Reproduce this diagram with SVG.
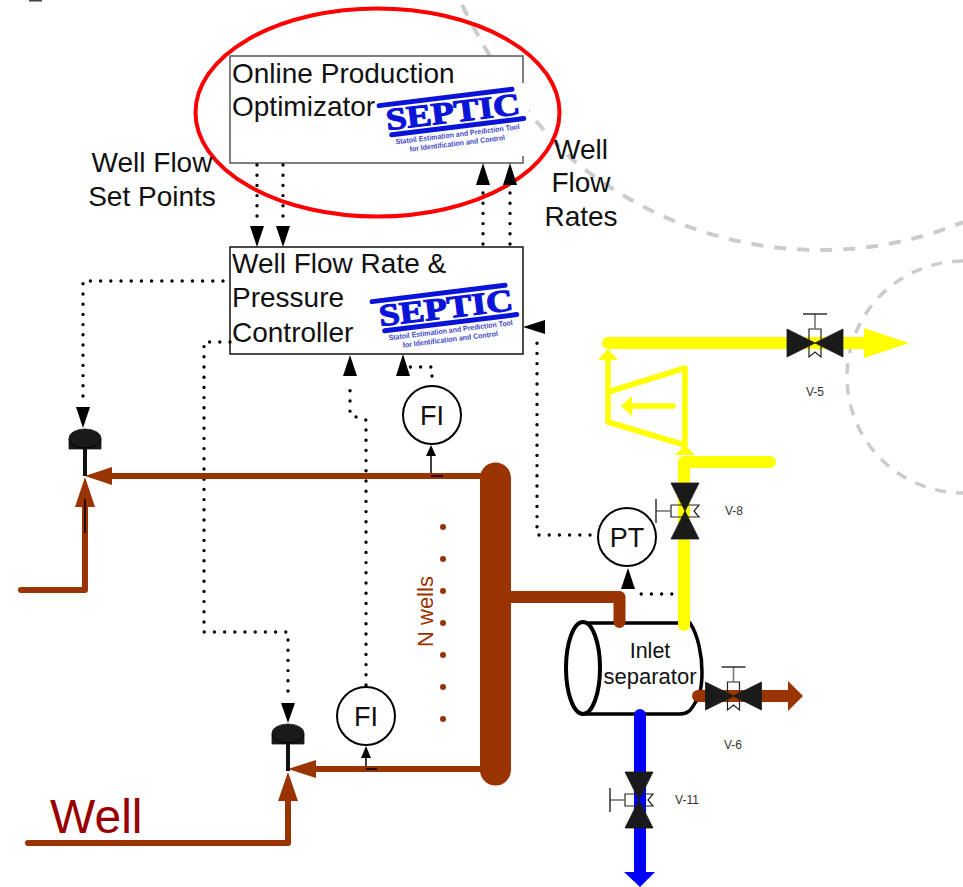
<svg xmlns="http://www.w3.org/2000/svg" xmlns:xlink="http://www.w3.org/1999/xlink" width="963" height="887" viewBox="0 0 963 887">
<style>
text{font-family:"Liberation Sans",Arial,sans-serif;fill:#111}
.t28{font-size:28px}
.mid{text-anchor:middle}
.vl{font-size:12px;fill:#333;text-anchor:middle}
.box{fill:#fff;stroke-width:1.5}
.dash{fill:none;stroke:#ccc;stroke-width:4;stroke-dasharray:12 11}
.dot{fill:none;stroke:#000;stroke-width:3.4;stroke-linecap:round;stroke-dasharray:0 10.2;stroke-linejoin:round}
.ah{fill:#000}
.thin{fill:none;stroke:#000;stroke-width:1.5}
.inst{fill:#fff;stroke:#000;stroke-width:2}
.br{fill:none;stroke:#993300;stroke-linejoin:round;stroke-linecap:round}
.brf{fill:#993300}
.ye{fill:none;stroke:#ff0;stroke-linecap:round;stroke-linejoin:round}
.yef{fill:#ff0}
.bl{fill:none;stroke:#00f;stroke-linecap:round}
.blk{fill:#1a1a1a;stroke:#1a1a1a;stroke-width:.8}
.vh{fill:none;stroke:#222;stroke-width:1.2}
.stem{fill:none;stroke:#777;stroke-width:1.6}
.bar{fill:none;stroke:#222;stroke-width:1.4}
.lg{fill:#0a14d8;stroke:#0a14d8;stroke-width:1.1;font-family:"Liberation Serif",serif;font-weight:bold}
.lgs{fill:#3f4ac8;font-weight:bold;font-size:7.5px}
</style>
<defs>
<g id="valve">
<path class="blk" d="M-28,-14 L0,0 L-28,14Z M28,-14 L0,0 L28,14Z"/>
<path class="vh" d="M-6,14 V-14 H6 V14 L0,9Z"/>
<path class="stem" d="M0,-14 V-29"/>
<path class="bar" d="M-12,-29 H12"/>
</g>
<g id="actuator">
<path class="blk" d="M-16,20 V9 A16,9 0 0 1 16,9 V20Z"/>
<path d="M-16,10 A16,9 0 0 0 16,10" fill="none" stroke="#000" stroke-width="1"/>
<rect x="-2" y="20" width="4" height="27" fill="#111"/>
</g>
<g id="logo">
<g transform="rotate(-7 380 105)">
<path d="M379,105.5 L513,105.5" stroke="#0a14d8" stroke-width="5" stroke-linecap="round"/>
<path d="M388,136 L521,136" stroke="#0a14d8" stroke-width="5" stroke-linecap="round"/>
<text class="lg" x="384" y="131" font-size="31" textLength="135" lengthAdjust="spacingAndGlyphs">SEPTIC</text>
<text class="lgs" x="391" y="146" textLength="125" lengthAdjust="spacingAndGlyphs">Statoil Estimation and Prediction Tool</text>
<text class="lgs" x="404" y="155" textLength="96" lengthAdjust="spacingAndGlyphs">for Identification and Control</text>
</g>
</g>
</defs>
<rect width="963" height="887" fill="#fff"/>
<rect x="29" y="0" width="13" height="1.5" fill="#444"/>

<g id="background-arcs">
<path class="dash" d="M462,5 C490,60 520,110 573,160 C640,215 720,247 810,250 C870,251 920,240 963,222"/>
<path class="dash" style="stroke-width:3.5;stroke-dasharray:11 10" d="M963,261 A116,116 0 0 0 963,493"/>
</g>

<g id="node-optimizer">
<rect class="box" x="230" y="56" width="293" height="107" stroke="#555"/>
<rect x="378" y="83" width="151" height="73" fill="#fff"/>
<use xlink:href="#logo" href="#logo"/>
<text class="t28" x="232" y="83">Online Production</text>
<text class="t28" x="232" y="116">Optimizator</text>
</g>
<g id="node-controller">
<rect class="box" x="230" y="247" width="293" height="107" stroke="#111"/>
<use xlink:href="#logo" href="#logo" transform="translate(-7 196)"/>
<text class="t28" x="232" y="273">Well Flow Rate &amp;</text>
<text class="t28" x="232" y="307">Pressure</text>
<text class="t28" x="232" y="342">Controller</text>
</g>
<ellipse id="highlight" cx="377.5" cy="112.5" rx="182" ry="104" fill="none" stroke="#f00" stroke-width="4"/>

<g id="connectors">
<path class="dot" d="M257,165 V222"/><polygon class="ah" points="250,226 264,226 257,247"/>
<path class="dot" d="M283,165 V222"/><polygon class="ah" points="276,226 290,226 283,247"/>
<path class="dot" d="M483,244 V192"/><polygon class="ah" points="476,185 490,185 483,163"/>
<path class="dot" d="M510,244 V192"/><polygon class="ah" points="503,185 517,185 510,163"/>
<path class="dot" d="M223,281 H83 V403"/><polygon class="ah" points="76,407 90,407 83,428"/>
<path class="dot" d="M230,342 H204 V632 H288 V698"/><polygon class="ah" points="281,703 295,703 288,723"/>
<path class="dot" d="M366,685 V420 L350,415 V384"/><polygon class="ah" points="343,376 357,376 350,355"/>
<path class="dot" d="M432,376 V367 H410"/><polygon class="ah" points="396,376 410,376 403,354"/>
<path class="dot" d="M590,535 H537 V335"/><polygon class="ah" points="545,320 545,334 523,327"/>
<path class="dot" d="M682,594 H632"/><polygon class="ah" points="621,589 635,589 628,568"/>
<path class="thin" d="M443,476 H431 V454"/><polygon class="ah" points="426,456 436,456 431,445"/>
<path class="thin" d="M377,769 H366 V757"/><polygon class="ah" points="361,758 371,758 366,746"/>
</g>

<g id="node-separator">
<path d="M583,623 H690 C698,635 702,655 702,672 C702,688 699,698 695,703 C691,710 688,714 680,714 H583Z" fill="#fff" stroke="#000" stroke-width="3.5"/>
<ellipse cx="583" cy="668" rx="17" ry="46" fill="#fff" stroke="#000" stroke-width="4"/>
<text class="mid" x="650" y="658" font-size="21.5">Inlet</text>
<text class="mid" x="650" y="684" font-size="22">separator</text>
</g>

<g id="pipes">
<path class="ye" stroke-width="12" d="M684,625 V462 H770"/>
<path class="ye" stroke-width="12" d="M608,343 H866"/>
<polygon class="yef" points="864,328 909,343 864,358"/>
<path class="ye" stroke-width="5.5" d="M608,392 L685,368 V445 L608,422Z M608,392 V358"/>
<polygon class="yef" points="598,360 618,360 608,349"/>
<polygon class="yef" points="675,455 695,455 685,445"/>
<path class="ye" stroke-width="5.5" d="M673,406 H630"/>
<polygon class="yef" points="632,396 632,416 621,406"/>
<path class="br" stroke-width="31" d="M495.5,478 V770"/>
<path class="br" stroke-width="12" d="M505,597 H619.5 V622"/>
<path class="br" stroke-width="6" d="M112,476 H482"/>
<polygon class="brf" points="112,467 112,485 85,476"/>
<path class="br" stroke-width="6" d="M21,590 H85 V505"/>
<polygon class="brf" points="75,507 95,507 85,477"/>
<path class="br" stroke-width="6" d="M316,769 H482"/>
<polygon class="brf" points="316,760 316,778 288,769"/>
<path class="br" stroke-width="6" d="M28,843 H288 V799"/>
<polygon class="brf" points="278,801 298,801 288,772"/>
<path class="thin" d="M85,499 V533"/>
<path class="thin" d="M443,476 H431"/>
<path class="thin" d="M377,769 H366"/>
<path class="br" stroke-width="12" d="M698,696 H790"/>
<polygon class="brf" points="788,681 803,696 788,711"/>
<path class="bl" stroke-width="12" d="M640,715 V875"/>
<polygon fill="#00f" points="624,872 655,872 640,887"/>
</g>

<g id="node-fi-upper"><circle class="inst" cx="432" cy="415" r="29"/><text class="mid" x="432" y="425" font-size="27">FI</text></g>
<g id="node-fi-lower"><circle class="inst" cx="366" cy="716" r="29"/><text class="mid" x="366" y="726" font-size="27">FI</text></g>
<g id="node-pt"><circle class="inst" cx="627" cy="537" r="29"/><text class="mid" x="627" y="547" font-size="27">PT</text></g>

<g id="node-cv-upper"><use xlink:href="#actuator" href="#actuator" transform="translate(85 429)"/></g>
<g id="node-cv-lower"><use xlink:href="#actuator" href="#actuator" transform="translate(288 724)"/></g>

<g id="node-v5"><use xlink:href="#valve" href="#valve" transform="translate(815 343)"/><text class="vl" x="815" y="396">V-5</text></g>
<g id="node-v8"><use xlink:href="#valve" href="#valve" transform="translate(685 511) rotate(-90)"/><text class="vl" x="734" y="515">V-8</text></g>
<g id="node-v6"><use xlink:href="#valve" href="#valve" transform="translate(733.5 696)"/><text class="vl" x="733" y="749">V-6</text></g>
<g id="node-v11"><use xlink:href="#valve" href="#valve" transform="translate(639 800) rotate(-90)"/><text class="vl" x="687" y="804">V-11</text></g>

<g id="labels">
<text class="t28 mid" x="152" y="172">Well Flow</text>
<text class="t28 mid" x="152" y="206">Set Points</text>
<text class="t28 mid" x="581" y="159">Well</text>
<text class="t28 mid" x="581" y="192">Flow</text>
<text class="t28 mid" x="581" y="226">Rates</text>
<text x="50" y="833" font-size="48" style="fill:#990000">Well</text>
<text x="433" y="647" font-size="22" transform="rotate(-90 433 647)" style="fill:#993300">N wells</text>
<g class="brf"><circle cx="443" cy="527" r="3"/><circle cx="443" cy="559" r="3"/><circle cx="443" cy="591" r="3"/><circle cx="443" cy="623" r="3"/><circle cx="443" cy="655" r="3"/><circle cx="443" cy="687" r="3"/><circle cx="443" cy="719" r="3"/></g>
</g>
</svg>
